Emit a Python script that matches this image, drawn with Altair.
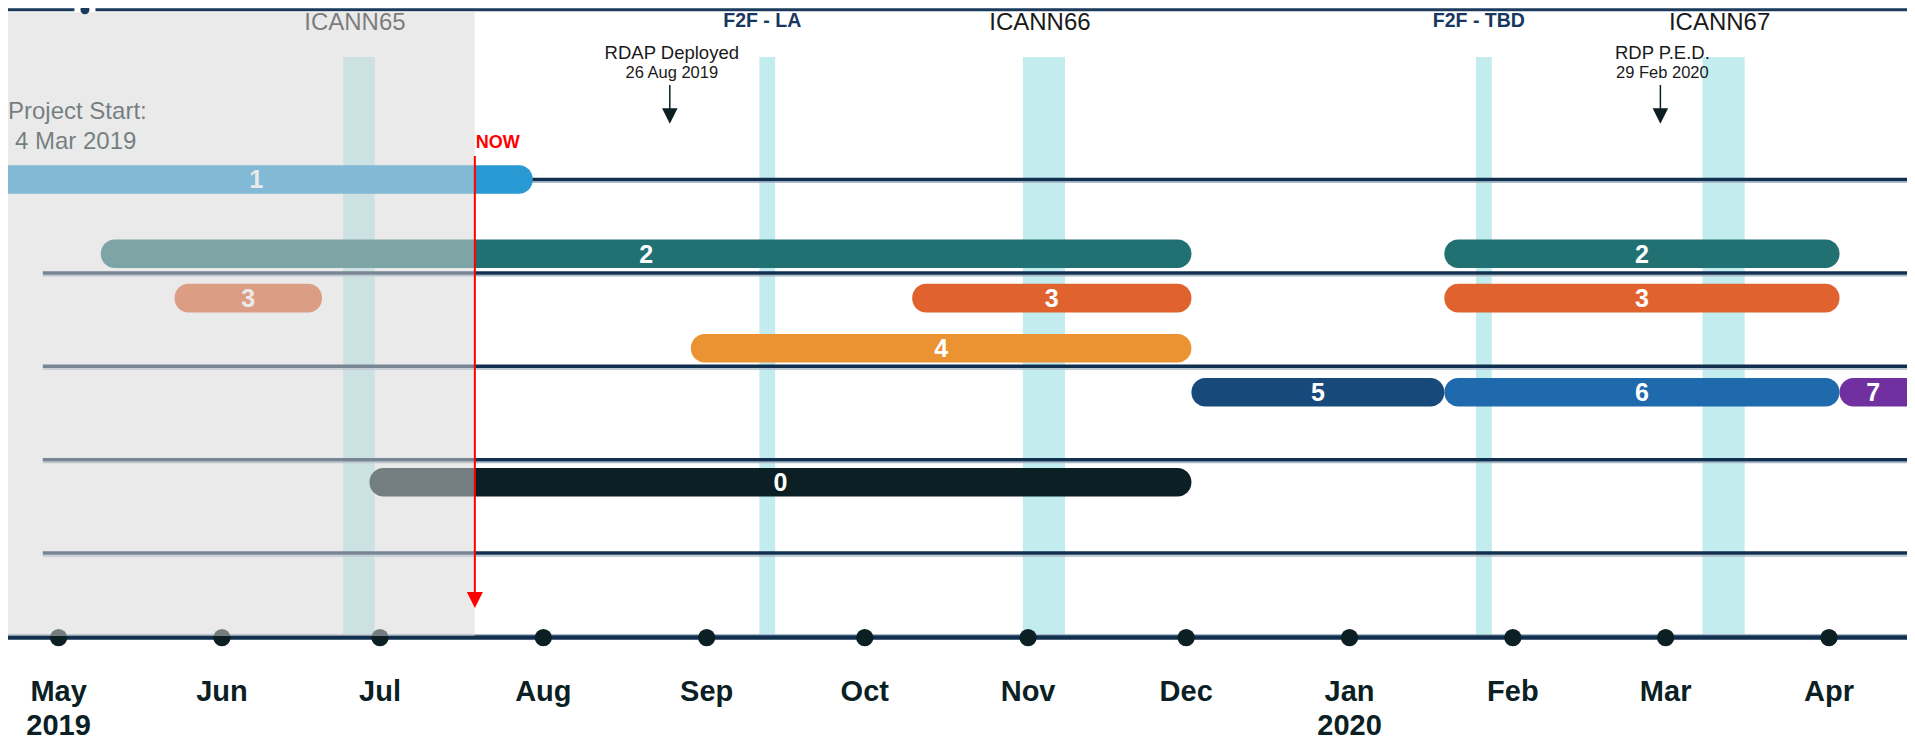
import altair as alt
import pandas as pd

# ---------------- data ----------------
ws_ids    = ["0", "1", "2", "3", "4", "5", "6", "7"]
ws_colors = ["#0B1F24", "#2899D3", "#217173", "#E0622E", "#EB9232", "#174A7A", "#1E6AAD", "#7030A0"]

bar_ws    = ["1", "2", "2", "3", "3", "3", "4", "5", "6", "7", "0"]
bar_start = ["2019-04-16", "2019-05-09", "2020-01-19", "2019-05-23", "2019-10-10", "2020-01-19",
             "2019-08-29", "2019-12-02", "2020-01-19", "2020-04-03", "2019-06-29"]
bar_end   = ["2019-07-30", "2019-12-02", "2020-04-03", "2019-06-20", "2019-12-02", "2020-04-03",
             "2019-12-02", "2020-01-19", "2020-04-03", "2020-05-31", "2019-12-02"]

meet_name  = ["ICANN65", "F2F - LA", "ICANN66", "F2F - TBD", "ICANN67"]
meet_kind  = ["icann", "f2f", "icann", "f2f", "icann"]
meet_start = ["2019-06-24", "2019-09-11", "2019-10-31", "2020-01-25", "2020-03-08"]
meet_end   = ["2019-06-30", "2019-09-14", "2019-11-08", "2020-01-28", "2020-03-16"]

ms_title = ["RDAP Deployed", "RDP P.E.D."]
ms_text  = ["26 Aug 2019", "29 Feb 2020"]
ms_date  = ["2019-08-25", "2020-02-29"]

month_labels = ["May", "Jun", "Jul", "Aug", "Sep", "Oct", "Nov", "Dec", "Jan", "Feb", "Mar", "Apr"]
month_dates  = ["2019-05-01", "2019-06-01", "2019-07-01", "2019-08-01", "2019-09-01", "2019-10-01",
                "2019-11-01", "2019-12-01", "2020-01-01", "2020-02-01", "2020-03-01", "2020-04-01"]
year_labels  = ["2019", "2020"]
year_dates   = ["2019-05-01", "2020-01-01"]

now_date = "2019-07-19"
project_start_lines = ["Project Start:", "4 Mar 2019"]
track_rows = [0, 1, 2, 3, 4]
track_from = "2019-04-28"
far_left, far_right = "2019-03-01", "2020-06-30"
header_seg_start = ["2019-03-01", "2019-05-08"]
header_seg_end   = ["2019-05-04", "2020-06-30"]
header_marker    = ["2019-05-06"]

# ---------------- layout (row units: one unit = gap between track lines) ----------------
ws_lane = {"1": 0.0, "2": 0.795, "3": 1.27, "4": 1.807, "5": 2.278, "6": 2.278, "7": 2.278, "0": 3.242}
BAR_HALF = 0.153
W, H = 1899, 734
UNIT = 93.4
Y_TOP = -1.836
Y_BOT = Y_TOP + H / UNIT
R_HEADER = -1.817
R_ICANN, R_F2F = -1.672, -1.697
R_MS_TITLE, R_MS_DATE = -1.351, -1.137
R_ARROW_TOP, R_ARROW_BOT, R_ARROW_HEAD = -1.012, -0.74, -0.68
R_PS1, R_PS2 = -0.720, -0.405
R_NOW_LABEL, R_NOW_TOP, R_NOW_HEAD = -0.393, -0.252, 4.502
R_BAND_TOP, R_SHADE_TOP, R_SHADE_BOT = -1.312, -1.79, 4.888
R_AXIS, R_MONTH, R_YEAR = 4.905, 5.487, 5.851
TRACK_EDGE = 0.03

FONT = "Liberation Sans"
NAVY = "#112F4E"
EDGE = "#A9B9C8"
DARK = "#0B1F24"

dom_end = pd.Timestamp("2020-04-15 19:22", tz="UTC")


def ms(s):
    return pd.Timestamp(s, tz="UTC").value // 10**6


xs = alt.Scale(type="utc", padding=0, domain=[
    alt.DateTime(year=2019, month=4, date=21, hours=9, minutes=32, utc=True),
    alt.DateTime(year=2020, month=4, date=15, hours=19, minutes=22, utc=True)])
ys = alt.Scale(domain=[Y_TOP, Y_BOT], reverse=True, nice=False, zero=False, padding=0)


def X(f):
    return alt.X(f, type="temporal", scale=xs, axis=None)


def Yf(f):
    return alt.Y(f, type="quantitative", scale=ys, axis=None)


def YD(v):
    return alt.YDatum(v, type="quantitative", scale=ys, axis=None)


# ---------------- tables ----------------
bars_df = pd.DataFrame({"ws": bar_ws, "start": bar_start, "end": bar_end})
bars_df["lane"] = bars_df["ws"].map(ws_lane)
end_ms = bars_df["end"].map(ms).clip(upper=dom_end.value // 10**6)
bars_df["mid"] = (bars_df["start"].map(ms) + end_ms) / 2

meet_df = pd.DataFrame({"name": meet_name, "kind": meet_kind, "start": meet_start, "end": meet_end})
meet_df["mid"] = (meet_df["start"].map(ms) + meet_df["end"].map(ms)) / 2

ms_df = pd.DataFrame({"title": ms_title, "text": ms_text, "date": ms_date})
months_df = pd.DataFrame({"label": month_labels, "date": month_dates})
years_df = pd.DataFrame({"label": year_labels, "date": year_dates})
tracks_df = pd.DataFrame({"row": track_rows, "start": track_from, "end": far_right})
span_df = pd.DataFrame({"start": [far_left], "end": [far_right]})
shade_df = pd.DataFrame({"start": [far_left], "end": [now_date]})
now_df = pd.DataFrame({"date": [now_date], "label": ["NOW"]})
ps_df = pd.DataFrame({"t1": [project_start_lines[0]], "t2": [project_start_lines[1]]})
header_df = pd.DataFrame({"start": header_seg_start, "end": header_seg_end})
marker_df = pd.DataFrame({"date": header_marker})

# ---------------- layers ----------------
bands = alt.Chart(meet_df).mark_rect(color="#C2ECEE", clip=True).encode(
    x=X("start"), x2="end", y=YD(R_BAND_TOP), y2=alt.Y2Datum(R_AXIS))

track_edges = alt.Chart(tracks_df).transform_calculate(
    r2=f"datum.row + {TRACK_EDGE}"
).mark_rule(color=EDGE, strokeWidth=1.5, clip=True).encode(
    x=X("start"), x2="end", y=Yf("r2:Q"))

tracks = alt.Chart(tracks_df).mark_rule(color=NAVY, strokeWidth=3.5, clip=True).encode(
    x=X("start"), x2="end", y=Yf("row"))

axis_edge = alt.Chart(span_df).mark_rule(color=EDGE, strokeWidth=1.5, clip=True).encode(
    x=X("start"), x2="end", y=YD(R_AXIS - 0.03))

axis_line = alt.Chart(span_df).mark_rule(color=NAVY, strokeWidth=4.5, clip=True).encode(
    x=X("start"), x2="end", y=YD(R_AXIS))

bars = alt.Chart(bars_df).transform_calculate(
    y0=f"datum.lane - {BAR_HALF}", y1=f"datum.lane + {BAR_HALF}"
).mark_rect(cornerRadius=14, clip=True).encode(
    x=X("start"), x2="end", y=Yf("y0:Q"), y2="y1:Q",
    color=alt.Color("ws:N", scale=alt.Scale(domain=ws_ids, range=ws_colors), legend=None))

bar_labels = alt.Chart(bars_df).mark_text(
    font=FONT, fontSize=25, fontWeight="bold", color="white", baseline="middle", dy=1).encode(
    x=X("mid"), y=Yf("lane"), text="ws:N")

dots = alt.Chart(months_df).mark_circle(size=300, color=DARK, opacity=1).encode(
    x=X("date"), y=YD(R_AXIS))

month_text = alt.Chart(months_df).mark_text(
    font=FONT, fontSize=29, fontWeight="bold", color=DARK, baseline="middle").encode(
    x=X("date"), y=YD(R_MONTH), text="label:N")

year_text = alt.Chart(years_df).mark_text(
    font=FONT, fontSize=29, fontWeight="bold", color=DARK, baseline="middle").encode(
    x=X("date"), y=YD(R_YEAR), text="label:N")

icann_text = alt.Chart(meet_df).transform_filter(alt.datum.kind == "icann").mark_text(
    font=FONT, fontSize=24, color="#1A1A1A", baseline="middle", dx=-4).encode(
    x=X("mid"), y=YD(R_ICANN), text="name:N")

f2f_text = alt.Chart(meet_df).transform_filter(alt.datum.kind == "f2f").mark_text(
    font=FONT, fontSize=19.5, fontWeight="bold", color="#17375E", baseline="middle", dx=-5).encode(
    x=X("mid"), y=YD(R_F2F), text="name:N")

ms_title_text = alt.Chart(ms_df).mark_text(
    font=FONT, fontSize=18.5, color="#1A1A1A", baseline="middle", dx=2).encode(
    x=X("date"), y=YD(R_MS_TITLE), text="title:N")

ms_date_text = alt.Chart(ms_df).mark_text(
    font=FONT, fontSize=16.5, color="#1A1A1A", baseline="middle", dx=2).encode(
    x=X("date"), y=YD(R_MS_DATE), text="text:N")

ms_shaft = alt.Chart(ms_df).mark_rule(color=DARK, strokeWidth=1.5).encode(
    x=X("date"), y=YD(R_ARROW_TOP), y2=alt.Y2Datum(R_ARROW_BOT))

ms_head = alt.Chart(ms_df).mark_point(
    shape="M-1,-1L1,-1L0,1Z", filled=True, size=240, color=DARK, opacity=1).encode(
    x=X("date"), y=YD(R_ARROW_HEAD))

ps1 = alt.Chart(ps_df).mark_text(
    font=FONT, fontSize=24, color=DARK, align="left", baseline="middle").encode(
    x=alt.value(0), y=YD(R_PS1), text="t1:N")

ps2 = alt.Chart(ps_df).mark_text(
    font=FONT, fontSize=24, color=DARK, align="left", baseline="middle", dx=7).encode(
    x=alt.value(0), y=YD(R_PS2), text="t2:N")

shade = alt.Chart(shade_df).mark_rect(color="#D6D6D6", opacity=0.516, clip=True).encode(
    x=X("start"), x2="end", y=YD(R_SHADE_TOP), y2=alt.Y2Datum(R_SHADE_BOT))

now_rule = alt.Chart(now_df).mark_rule(color="#FF0000", strokeWidth=2).encode(
    x=X("date"), y=YD(R_NOW_TOP), y2=alt.Y2Datum(R_NOW_HEAD))

now_head = alt.Chart(now_df).mark_point(
    shape="M-1,-1L1,-1L0,1Z", filled=True, size=256, color="#FF0000", opacity=1).encode(
    x=X("date"), y=YD(R_NOW_HEAD))

now_text = alt.Chart(now_df).mark_text(
    font=FONT, fontSize=18, fontWeight="bold", color="#FF0000", align="left",
    baseline="middle", dx=1).encode(
    x=X("date"), y=YD(R_NOW_LABEL), text="label:N")

header = alt.Chart(header_df).mark_rule(color="#1B3A5C", strokeWidth=3, clip=True).encode(
    x=X("start"), x2="end", y=YD(R_HEADER))

header_dot = alt.Chart(marker_df).mark_circle(size=80, color="#1B3A5C", opacity=1).encode(
    x=X("date"), y=YD(R_HEADER))

chart = alt.layer(
    bands, track_edges, tracks, axis_edge, axis_line, bars, bar_labels, dots, month_text, year_text,
    icann_text, f2f_text, ms_title_text, ms_date_text, ms_shaft, ms_head, ps1, ps2,
    shade, now_rule, now_head, now_text, header, header_dot
).properties(
    width=W, height=H, padding=0,
    autosize=alt.AutoSizeParams(type="none"),
    background="white"
).configure_view(stroke=None)

chart.save("out.html", embed_options={"renderer": "svg", "actions": False})
